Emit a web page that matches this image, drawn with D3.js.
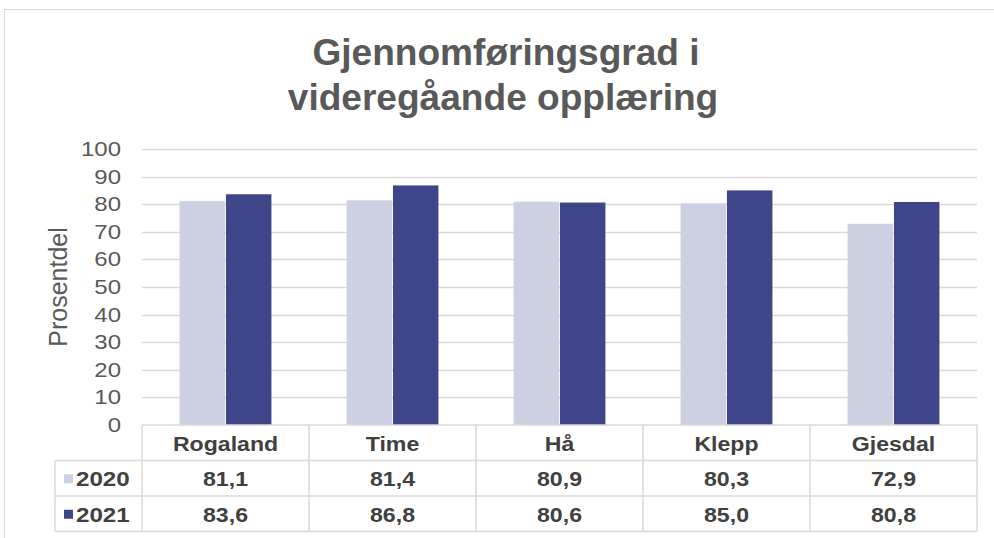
<!DOCTYPE html>
<html>
<head>
<meta charset="utf-8">
<script src="https://cdn.jsdelivr.net/npm/d3@7"></script>
<style>
body{margin:0;background:#fff;}
text{font-family:"Liberation Sans",Arial,sans-serif;}
</style>
</head>
<body>
<div id="plot"></div>
<script>
var categories = ["Rogaland", "Time", "Hå", "Klepp", "Gjesdal"]
var years = ["2020", "2021"]
var values2020 = [81.1, 81.4, 80.9, 80.3, 72.9]
var values2021 = [83.6, 86.8, 80.6, 85.0, 80.8]
var colors = ["#cdd0e2", "#3f4589"]
var ticks = [0,10,20,30,40,50,60,70,80,90,100]

var series = [values2020, values2021]
var fmt = function(v){ return v.toFixed(1).replace(".", ",") }

var W = 994, H = 538
var svg = d3.select("#plot").append("svg").attr("width", W).attr("height", H)

// the picture is a little wider than tall, so text is stretched sideways
function label(g, x, y, str, size, sx, anchor, bold, col){
	return g.append("text")
		.attr("transform", "translate(" + x + "," + y + ") scale(" + sx + ",1)")
		.attr("text-anchor", anchor)
		.style("font-size", size + "px")
		.style("font-weight", bold ? "bold" : "normal")
		.attr("fill", col)
		.text(str)
}

// frame
svg.append("rect").attr("x", 4.5).attr("y", 9.5).attr("width", 995).attr("height", 540)
	.attr("fill", "#fff").attr("stroke", "#d9d9d9")

label(svg, 506, 65, "Gjennomføringsgrad i", 36, 1.03, "middle", true, "#595959")
label(svg, 503, 110, "videregåande opplæring", 36, 1.03, "middle", true, "#595959")

var pl = 142, pr = 977, pt = 149, pb = 425
var x = d3.scaleBand().domain(categories).range([pl, pr])
var y = d3.scaleLinear().domain([0, 100]).range([pb, pt])
var inner = d3.scaleBand().domain(years).range([0, x.bandwidth()]).paddingOuter(0.81).paddingInner(0.02)

// gridlines
svg.append("g").selectAll("line").data(ticks.slice(1)).enter().append("line")
	.attr("x1", pl).attr("x2", pr)
	.attr("y1", function(d){ return Math.round(y(d)) + 0.5 })
	.attr("y2", function(d){ return Math.round(y(d)) + 0.5 })
	.attr("stroke", "#d9d9d9").attr("stroke-width", 1.5)

var yl = svg.append("g")
ticks.forEach(function(d){
	label(yl, 121, y(d) + 7, d, 20, 1.2, "end", false, "#595959")
})

svg.append("text").attr("transform", "translate(67,287) rotate(-90)")
	.attr("text-anchor", "middle").style("font-size", "25px").attr("fill", "#595959")
	.text("Prosentdel")

// bars
series.forEach(function(vals, s){
	svg.append("g").selectAll("rect").data(vals).enter().append("rect")
		.attr("x", function(d, i){ return x(categories[i]) + inner(years[s]) })
		.attr("width", inner.bandwidth())
		.attr("y", function(d){ return y(d) })
		.attr("height", function(d){ return pb - y(d) })
		.attr("fill", colors[s])
})

// data table
var rowH = 35.5
var tbl = svg.append("g").attr("stroke", "#d9d9d9").attr("stroke-width", 1.5).attr("fill", "none")
tbl.append("line").attr("x1", pl).attr("x2", pr).attr("y1", pb).attr("y2", pb)
for (var r = 1; r <= 3; r++){
	tbl.append("line").attr("x1", 55).attr("x2", pr)
		.attr("y1", pb + r*rowH).attr("y2", pb + r*rowH)
}
tbl.append("line").attr("x1", 55).attr("x2", 55).attr("y1", pb + rowH).attr("y2", pb + 3*rowH)
categories.concat(["end"]).forEach(function(c, i){
	var xx = i < categories.length ? x(c) : pr
	tbl.append("line").attr("x1", xx).attr("x2", xx).attr("y1", pb).attr("y2", pb + 3*rowH)
})

var tt = svg.append("g")
categories.forEach(function(c){
	label(tt, x(c) + x.bandwidth()/2, pb + rowH/2 + 8, c, 21, 1.1, "middle", true, "#404040")
})

series.forEach(function(vals, s){
	var ry = pb + (s+1)*rowH
	svg.append("rect").attr("x", 64).attr("y", ry + rowH/2 - 4).attr("width", 9).attr("height", 9)
		.attr("fill", colors[s])
	label(tt, 76, ry + rowH/2 + 8, years[s], 21, 1.15, "start", true, "#404040")
	vals.forEach(function(v, i){
		label(tt, x(categories[i]) + x.bandwidth()/2, ry + rowH/2 + 8, fmt(v), 21, 1.1, "middle", true, "#404040")
	})
})
</script>
</body>
</html>
